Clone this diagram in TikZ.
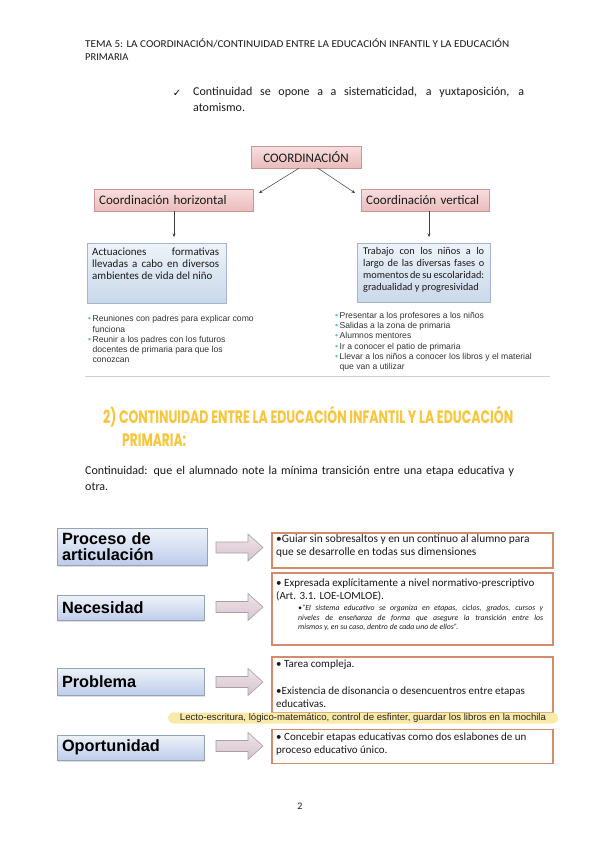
\documentclass[tikz,border=0pt]{standalone}
\usepackage{fontspec}
\setmainfont{Carlito}
\newfontfamily\arialf{Liberation Sans}
\newfontfamily\headf{Poppins}
\newfontfamily\djv{DejaVu Sans}
\usetikzlibrary{shadows,arrows.meta}
\definecolor{pinktop}{HTML}{F8DEDE}
\definecolor{pinkbot}{HTML}{EBBBBB}
\definecolor{pinkborder}{HTML}{C99595}
\definecolor{bluetop}{HTML}{EEF3F9}
\definecolor{bluebot}{HTML}{C9D8EA}
\definecolor{blueborder}{HTML}{A3B6CC}
\definecolor{bulletblue}{HTML}{5CB8E4}
\definecolor{orangeb}{HTML}{D38B6C}
\definecolor{arrtop}{HTML}{EEE2E8}
\definecolor{arrbot}{HTML}{D8C4CF}
\definecolor{arrborder}{HTML}{A6A0A4}
\definecolor{headyellow}{HTML}{F9C53A}
\definecolor{hilite}{HTML}{FAEAA8}
\definecolor{rulegray}{HTML}{D0D0D0}
\definecolor{txt}{HTML}{1A1A1A}
\tikzset{
  pinkbox/.style={draw=pinkborder, top color=pinktop, bottom color=pinkbot,
    drop shadow={opacity=0.25, shadow xshift=1pt, shadow yshift=-1.2pt},
    inner sep=0pt, minimum height=22pt, font=\fontsize{13}{14}\selectfont, text=txt},
  bluebox/.style={draw=blueborder, top color=bluetop, bottom color=bluebot,
    drop shadow={opacity=0.25, shadow xshift=1pt, shadow yshift=-1.2pt},
    inner sep=0pt},
  bigbox/.style={draw=blueborder!90!black, top color=bluetop, bottom color=bluebot!95!blue,
    drop shadow={opacity=0.25, shadow xshift=1.2pt, shadow yshift=-1.5pt},
    inner sep=0pt, font=\arialf\bfseries\fontsize{16.3}{16.5}\selectfont, text=black},
  obox/.style={draw=orangeb, line width=1.2pt, fill=white, inner sep=0pt},
  thinarrow/.style={draw=black!75, line width=0.5pt, -{Stealth[length=3.5pt,width=3pt]}},
  barrow/.style={draw=arrborder, line width=0.6pt, top color=arrtop, bottom color=arrbot},
  txtline/.style={inner sep=0pt, anchor=base west, text=txt},
  blist/.style={inner sep=0pt, anchor=north west, align=left, text=black!80,
    font=\arialf\fontsize{8.6}{10.2}\selectfont},
  boxtext/.style={inner sep=0pt, anchor=north west, align=left, text=txt,
    font=\fontsize{11}{13}\selectfont},
}
\newcommand{\bb}{\textcolor{bulletblue}{\textbullet}\,}
\begin{document}
\begin{tikzpicture}[x=1pt,y=-1pt]
\useasboundingbox[fill=white] (0,0) rectangle (599,848);

% header
\node[txtline, font=\fontsize{10.5}{11}\selectfont] (hdr1) at (85,47.5)
  {\resizebox{424pt}{\height}{TEMA 5: LA COORDINACIÓN/CONTINUIDAD ENTRE LA EDUCACIÓN INFANTIL Y LA EDUCACIÓN}};
\node[txtline, font=\fontsize{10.5}{11}\selectfont] (hdr2) at (85,61) {PRIMARIA};

% check line
\node[inner sep=0pt, font=\djv\fontsize{10}{10}\selectfont] (chk) at (177,93) {✓};
\node[inner sep=0pt, anchor=north west, text width=331pt, align=justify, text=txt,
  font=\fontsize{12}{16}\selectfont] (opone) at (193,86.5)
  {Continuidad se opone a a sistematicidad, a yuxtaposición, a\linebreak atomismo.};

% coordination diagram
\node[pinkbox, minimum width=110pt] (coord) at (306,157) {COORDINACIÓN};
\node[pinkbox, minimum width=159pt, anchor=west, inner xsep=5pt, text width=149pt, align=left] (chor) at (94,200) {Coordinación horizontal};
\node[pinkbox, minimum width=128pt, anchor=west, inner xsep=5pt, text width=118pt, align=left] (cver) at (361,200) {Coordinación vertical};
\coordinate (chorin) at (259,193);
\coordinate (cverin) at (355,193);
\draw[thinarrow] ([xshift=-7pt]coord.south) -- (chorin);
\draw[thinarrow] ([xshift=12pt]coord.south) -- (cverin);

\node[bluebox, minimum width=139pt, minimum height=60pt] (bl) at (156.5,273) {};
\node[bluebox, minimum width=133pt, minimum height=59pt] (br) at (423.5,272.5) {};
\node[inner sep=0pt, anchor=north west, text width=127pt, align=justify, text=txt,
  font=\fontsize{11}{12}\selectfont] (bltxt) at (92,247.5)
  {Actuaciones formativas\linebreak llevadas a cabo en diversos\linebreak ambientes de vida del niño};
\node[inner sep=0pt, anchor=north west, text width=121pt, align=justify, text=txt,
  font=\fontsize{10.3}{12}\selectfont] (brtxt) at (363,247)
  {Trabajo con los niños a lo\linebreak largo de las diversas fases o\linebreak momentos de su escolaridad:\linebreak gradualidad y progresividad};
\draw[thinarrow] (chor.south -| 174,0) -- (174,237);
\draw[thinarrow] (cver.south -| 429,0) -- (429,237);

\node[blist] (lbul) at (88,315.5)
  {\bb Reuniones con padres para explicar como\\
   \phantom{\bb}funciona\\
   \bb Reunir a los padres con los futuros\\
   \phantom{\bb}docentes de primaria para que los\\
   \phantom{\bb}conozcan};
\node[blist] (rbul) at (335,312)
  {\bb Presentar a los profesores a los niños\\
   \bb Salidas a la zona de primaria\\
   \bb Alumnos mentores\\
   \bb Ir a conocer el patio de primaria\\
   \bb Llevar a los niños a conocer los libros y el material\\
   \phantom{\bb}que van a utilizar};
\coordinate (rulel) at (85,376);
\coordinate (ruler) at (550,376);
\draw[rulegray, line width=0.8pt] (rulel) -- (ruler);

% heading
\node[txtline, text=headyellow, font=\headf\bfseries\fontsize{18}{18}\selectfont] (head1) at (103,423.5)
  {\resizebox{410pt}{\height}{2) CONTINUIDAD ENTRE LA EDUCACIÓN INFANTIL Y LA EDUCACIÓN}};
\node[txtline, text=headyellow, font=\headf\bfseries\fontsize{18}{18}\selectfont] (head2) at (122,446.5)
  {\resizebox{64pt}{\height}{PRIMARIA:}};

\node[inner sep=0pt, anchor=north west, text width=440pt, align=left, text=txt,
  font=\fontsize{12}{16}\selectfont] (contin) at (85,465.5)
  {Continuidad: que el alumnado note la mínima transición entre una etapa educativa y\\otra.};

% lower diagram: left boxes
\node[bigbox, minimum width=150pt, minimum height=37pt, text width=140pt, align=left] (proc) at (132,546.5)
  {Proceso de\\[-0.5pt]articulación};
\node[bigbox, minimum width=147pt, minimum height=25pt, text width=137pt, align=left] (nece) at (130.5,608) {Necesidad};
\node[bigbox, minimum width=147pt, minimum height=27pt, text width=137pt, align=left] (prob) at (130.5,681.5) {Problema};
\node[bigbox, minimum width=147pt, minimum height=25pt, text width=137pt, align=left] (opor) at (130.5,747.5) {Oportunidad};

% right boxes
\node[obox, minimum width=281pt, minimum height=35pt] (r1) at (412.5,550.5) {};
\node[obox, minimum width=281pt, minimum height=72pt] (r2) at (412.5,609) {};
\node[obox, minimum width=281pt, minimum height=56pt] (r3) at (412.5,685) {};
\node[obox, minimum width=281pt, minimum height=34pt] (r4) at (412.5,746.5) {};

% block arrows
\foreach \n/\yy in {a1/547.5, a2/607, a3/682, a4/746}{
  \coordinate (\n) at (216,\yy);
  \path[barrow] (\n) ++(0,-5.5) -- ++(32,0) -- ++(0,-8) -- ++(15,13.5) -- ++(-15,13.5) -- ++(0,-8) -- ++(-32,0) -- cycle;
}

% texts in right boxes
\node[boxtext, font=\fontsize{11.4}{13}\selectfont] (t1) at (276,534)
  {\textbullet Guiar sin sobresaltos y en un continuo al alumno para\\que se desarrolle en todas sus dimensiones};
\node[boxtext] (t2) at (276,578.5)
  {\textbullet{} Expresada explícitamente a nivel normativo-prescriptivo\\(Art. 3.1. LOE-LOMLOE).};
\node[inner sep=0pt, anchor=north west, text width=245pt, align=justify, text=txt,
  font=\itshape\fontsize{7.8}{9.3}\selectfont] (t2q) at (298,605)
  {\textbullet``El sistema educativo se organiza en etapas, ciclos, grados, cursos y\linebreak niveles de enseñanza de forma que asegure la transición entre los\linebreak mismos y, en su caso, dentro de cada uno de ellos''.};
\node[boxtext] (t3a) at (276,660)
  {\textbullet{} Tarea compleja.};
\node[boxtext, font=\fontsize{11}{13.5}\selectfont] (t3b) at (276,686.5)
  {\textbullet Existencia de disonancia o desencuentros entre etapas\\educativas.};
\node[boxtext] (t4) at (276,733)
  {\textbullet{} Concebir etapas educativas como dos eslabones de un\\proceso educativo único.};

% highlight band
\node[fill=hilite, rounded corners=5pt, minimum width=390pt, minimum height=11pt, inner sep=0pt,
  font=\arialf\fontsize{9.6}{9.6}\selectfont, text=black!85] (band) at (363,718)
  {Lecto-escritura, lógico-matemático, control de esfinter, guardar los libros en la mochila};

% page number
\node[inner sep=0pt, font=\fontsize{10}{10}\selectfont, text=txt] (pg) at (300,806) {2};
\end{tikzpicture}
\end{document}
